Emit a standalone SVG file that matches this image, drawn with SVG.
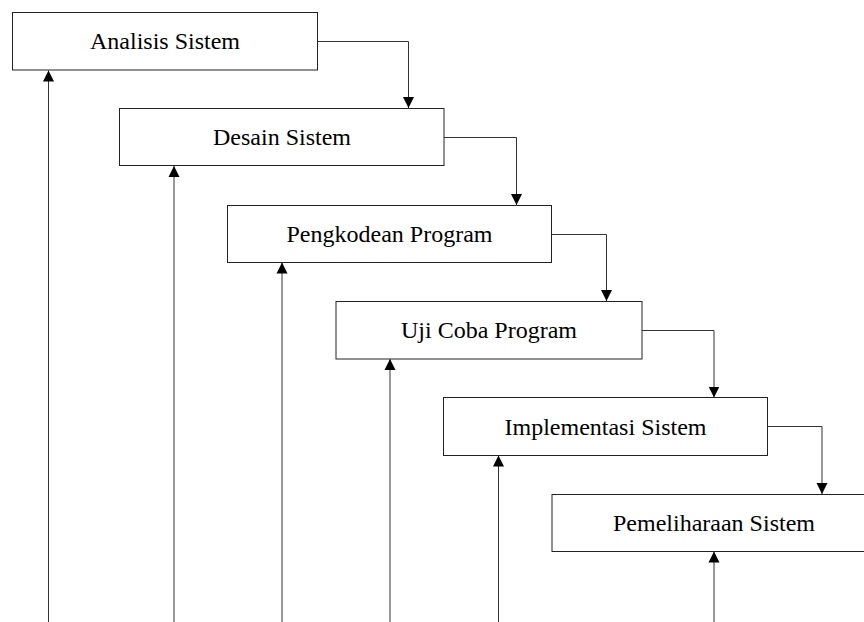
<svg xmlns="http://www.w3.org/2000/svg" width="864" height="622" viewBox="0 0 864 622">
<style>
.box{fill:#fff;stroke:#222;stroke-width:1}
.lbl{font-family:"Liberation Serif","Times New Roman",serif;font-size:24px;fill:#000;text-anchor:middle}
.con{fill:none;stroke:#333;stroke-width:1}
</style>
<defs>
<marker id="ah" markerUnits="userSpaceOnUse" markerWidth="12" markerHeight="12" viewBox="0 0 12 12" refX="11" refY="6" orient="auto">
<polygon points="0,0.5 11,6 0,11.5" fill="#000"/>
</marker>
</defs>
<rect width="864" height="622" fill="#fff"/>
<g id="connectors">
<path class="con" d="M317.5,41.5 H408.5 V108" marker-end="url(#ah)"/>
<path class="con" d="M444,137.5 H516.5 V205" marker-end="url(#ah)"/>
<path class="con" d="M552,234.5 H606.5 V301" marker-end="url(#ah)"/>
<path class="con" d="M642,330.5 H714 V397.5" marker-end="url(#ah)"/>
<path class="con" d="M767.5,426.5 H822 V494" marker-end="url(#ah)"/>
<path class="con" d="M48.5,622 V70.5" marker-end="url(#ah)"/>
<path class="con" d="M174,622 V166" marker-end="url(#ah)"/>
<path class="con" d="M282,622 V262.5" marker-end="url(#ah)"/>
<path class="con" d="M390,622 V359" marker-end="url(#ah)"/>
<path class="con" d="M498.5,622 V455.5" marker-end="url(#ah)"/>
<path class="con" d="M714,622 V551.5" marker-end="url(#ah)"/>
</g>
<g id="analisis">
<rect class="box" x="12.5" y="12.5" width="305" height="57.5"/>
<text class="lbl" x="165" y="49">Analisis Sistem</text>
</g>
<g id="desain">
<rect class="box" x="119.5" y="108.5" width="324.5" height="57"/>
<text class="lbl" x="282" y="145">Desain Sistem</text>
</g>
<g id="pengkodean">
<rect class="box" x="227.5" y="205.5" width="324" height="57"/>
<text class="lbl" x="389.5" y="242">Pengkodean Program</text>
</g>
<g id="ujicoba">
<rect class="box" x="336" y="301.5" width="306" height="57.5"/>
<text class="lbl" x="489" y="338">Uji Coba Program</text>
</g>
<g id="implementasi">
<rect class="box" x="443.5" y="397.5" width="324" height="58"/>
<text class="lbl" x="605.5" y="434.5">Implementasi Sistem</text>
</g>
<g id="pemeliharaan">
<rect class="box" x="552" y="494.5" width="324" height="57"/>
<text class="lbl" x="714" y="531">Pemeliharaan Sistem</text>
</g>
</svg>
